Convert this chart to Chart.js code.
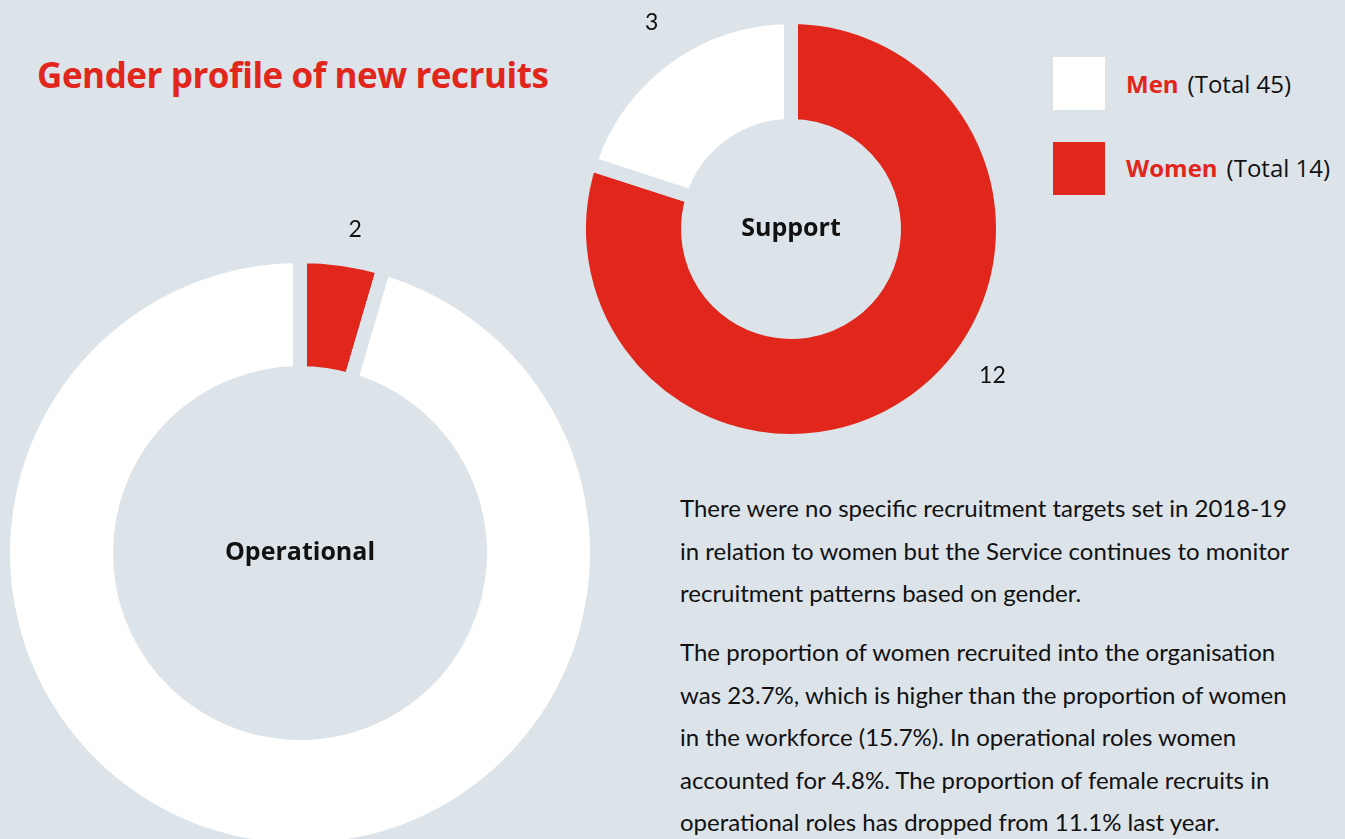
<!DOCTYPE html>
<html>
<head>
<meta charset="utf-8">
<script src="https://cdn.jsdelivr.net/npm/chart.js@4.4.1/dist/chart.umd.min.js"></script>
<style>
  html, body { margin: 0; padding: 0; }
  body { width: 1345px; height: 839px; overflow: hidden; background: #dce3e9; position: relative; font-family: Lato, "Open Sans", sans-serif; color: #111; }
  canvas { position: absolute; }
  #title { position: absolute; left: 37px; top: 57px; margin: 0; font-family: "Open Sans", sans-serif; font-size: 35px; line-height: 1; font-weight: 700; color: #e1261c; white-space: nowrap; letter-spacing: -0.45px; }
  .swatch { position: absolute; left: 1053px; width: 52px; height: 53px; }
  .leg { position: absolute; left: 1126px; font-family: "Open Sans", sans-serif; font-size: 24px; line-height: 1; white-space: nowrap; }
  .leg b { color: #e1261c; margin-right: 9px; }
  #notes { position: absolute; left: 680px; top: 487px; width: 665px; font-size: 24px; line-height: 42.5px; }
  #notes p { margin: 0 0 16.5px 0; white-space: nowrap; }
</style>
</head>
<body>
<h1 id="title">Gender profile of new recruits</h1>

<div class="swatch" style="top:57px;background:#ffffff"></div>
<div class="leg" style="top:72px"><b>Men</b>(Total 45)</div>
<div class="swatch" style="top:142px;background:#e1261c"></div>
<div class="leg" style="top:156px"><b>Women</b>(Total 14)</div>

<canvas id="opChart" width="600" height="700" style="left:0;top:203px"></canvas>
<canvas id="supChart" width="480" height="480" style="left:551px;top:-11px"></canvas>

<div id="notes">
  <p>There were no specific recruitment targets set in 2018-19<br>in relation to women but the Service continues to monitor<br>recruitment patterns based on gender.</p>
  <p>The proportion of women recruited into the organisation<br>was 23.7%, which is higher than the proportion of women<br>in the workforce (15.7%). In operational roles women<br>accounted for 4.8%. The proportion of female recruits in<br>operational roles has dropped from 11.1% last year.</p>
</div>

<script>
const genders = ['Women', 'Men'];
const operationalValues = [2, 42];
const supportValues = [12, 3];
const colours = ['#e1261c', '#ffffff'];
const BG = '#dce3e9';
const GAP = 14;

// draws the centre caption and the outside value labels
const ringLabels = {
  id: 'ringLabels',
  afterDatasetsDraw(chart, args, opts) {
    const ctx = chart.ctx;
    const meta = chart.getDatasetMeta(0);
    const arc0 = meta.data[0];
    const cx = arc0.x, cy = arc0.y;
    ctx.save();
    ctx.textAlign = 'center';
    ctx.textBaseline = 'middle';
    ctx.fillStyle = '#111';
    ctx.font = 'bold 25px "Open Sans", sans-serif';
    ctx.fillText(opts.caption, cx, cy);
    ctx.font = '23px Lato, sans-serif';
    const values = chart.data.datasets[0].data;
    meta.data.forEach((arc, i) => {
      if (!opts.show[i]) return;
      let mid = (arc.startAngle + arc.endAngle) / 2;
      if (opts.angleShift && opts.angleShift[i]) mid += opts.angleShift[i] * Math.PI / 180;
      const r = arc.outerRadius + opts.dist;
      ctx.fillText(values[i], cx + Math.cos(mid) * r, cy + Math.sin(mid) * r);
    });
    ctx.restore();
  }
};

function ring(id, values, radius, cutout, caption, dist, show, angleShift) {
  return new Chart(document.getElementById(id), {
    type: 'doughnut',
    data: {
      labels: genders,
      datasets: [{
        data: values,
        backgroundColor: colours,
        borderColor: BG,
        borderWidth: GAP,
        hoverBorderWidth: GAP,
        hoverOffset: 0
      }]
    },
    options: {
      responsive: false,
      animation: false,
      radius: radius,
      cutout: cutout,
      events: [],
      layout: { padding: 0 },
      plugins: {
        legend: { display: false },
        tooltip: { enabled: false },
        ringLabels: { caption, dist, show, angleShift }
      }
    },
    plugins: [ringLabels]
  });
}

// outer/inner radius include half of the gap stroke
ring('opChart', operationalValues, 297, (180 / 297 * 100) + '%', 'Operational', 31, [true, false], [1.5, 0]);
ring('supChart', supportValues, 212, (103 / 212 * 100) + '%', 'Support', 37, [true, true], [-18, 2]);
</script>
</body>
</html>
